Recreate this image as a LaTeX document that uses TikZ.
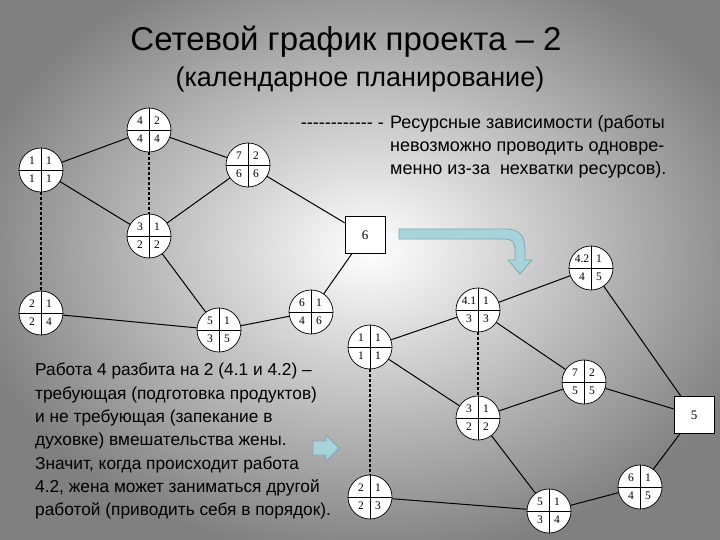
\documentclass[tikz,border=0pt]{standalone}
\usepackage{fontspec}
\setmainfont{Liberation Sans}
\newfontfamily\numf{Liberation Serif}
\usetikzlibrary{calc}
\definecolor{arrfill}{HTML}{A9D3DB}
\definecolor{arrdraw}{HTML}{7FA9B3}
\tikzset{
 ev/.style={circle,draw,fill=white,minimum size=44pt,inner sep=0pt,line width=0.7pt},
 num/.style={font=\numf\fontsize{11.5}{12}\selectfont,inner sep=0pt},
 bx/.style={draw,fill=white,minimum width=40pt,minimum height=37pt,font=\numf\fontsize{13}{14}\selectfont,line width=0.7pt},
 ed/.style={line width=1pt},
 rs/.style={line width=1.2pt,dash pattern=on 3pt off 2pt},
 blk/.style={draw=arrdraw,fill=arrfill,line width=0.8pt},
}
\newcommand\ev[6]{%
 \node[ev] (#1) at (#2) {};
 \draw[line width=0.6pt] (#1.west)--(#1.east) (#1.north)--(#1.south);
 \node[num] at ($(#1)+(-9,-9)$) {#3};
 \node[num] at ($(#1)+(8,-9)$) {#4};
 \node[num] at ($(#1)+(-9,9)$) {#5};
 \node[num] at ($(#1)+(8,9)$) {#6};}
\begin{document}
\begin{tikzpicture}[x=1pt,y=-1pt]
\path[use as bounding box] (0,0) rectangle (720,540);
\begin{scope}
\clip (0,0) rectangle (720,540);
\shade[inner color=white,outer color=black!50] (-40,-60) rectangle (780,560);
\end{scope}
\node[font=\fontsize{33}{38}\selectfont] (t1) at (346,42) {Сетевой график проекта – 2};
\node[font=\fontsize{27}{32}\selectfont] (t2) at (360,80) {(календарное планирование)};
\node[anchor=north west,align=left,font=\fontsize{18}{23}\selectfont,inner sep=0pt] (lg) at (390,115) {Ресурсные зависимости (работы\\невозможно проводить одновре-\\менно из-за\ \ нехватки ресурсов).};
\node[anchor=east,font=\fontsize{18}{20}\selectfont,inner sep=0pt] (lgd) at (384,126) {-{}-{}-{}-{}-{}-{}-{}-{}-{}-{}-{}-{} -};
\node[anchor=north west,align=left,font=\fontsize{17.3}{23.3}\selectfont,inner sep=0pt] (par) at (35,363) {Работа 4 разбита на 2 (4.1 и 4.2) –\\требующая (подготовка продуктов)\\и не требующая (запекание в\\духовке) вмешательства жены.\\Значит, когда происходит работа\\4.2, жена может заниматься другой\\работой (приводить себя в порядок).};
% left graph
\ev{A}{41,170}{1}{1}{1}{1}
\ev{B}{149,130}{4}{2}{4}{4}
\ev{C}{248,165}{7}{2}{6}{6}
\ev{D}{149,236}{3}{1}{2}{2}
\ev{E}{41,313}{2}{1}{2}{4}
\ev{F}{219,330}{5}{1}{3}{5}
\ev{G}{311,312}{6}{1}{4}{6}
\node[bx] (X6) at (365,235) {6};
\draw[ed] (A)--(B); \draw[ed] (B)--(C); \draw[ed] (A)--(D); \draw[ed] (D)--(C);
\draw[ed] (C)--(X6); \draw[ed] (X6)--(G); \draw[ed] (G)--(F); \draw[ed] (F)--(D); \draw[ed] (E)--(F);
\draw[rs] (A)--(E); \draw[rs] (B)--(D);
% right graph
\ev{H}{370,347}{1}{1}{1}{1}
\ev{I}{478,310}{4.1}{1}{3}{3}
\ev{J}{591,268}{4.2}{1}{4}{5}
\ev{K}{584,382}{7}{2}{5}{5}
\ev{L}{478,418}{3}{1}{2}{2}
\ev{M}{370,497}{2}{1}{2}{3}
\ev{N}{549,511}{5}{1}{3}{4}
\ev{O}{640,487}{6}{1}{4}{5}
\node[bx] (X5) at (694,415) {5};
\draw[ed] (H)--(I); \draw[ed] (I)--(J); \draw[ed] (H)--(L); \draw[ed] (I)--(K); \draw[ed] (L)--(K);
\draw[ed] (K)--(X5); \draw[ed] (J)--(X5); \draw[ed] (X5)--(O); \draw[ed] (O)--(N); \draw[ed] (N)--(L); \draw[ed] (M)--(N);
\draw[rs] (H)--(M); \draw[rs] (I)--(L);
% arrows
\draw[blk] (399,229)--(505,229) .. controls (520,229) and (525,236) .. (525,250) -- (525,260) -- (532,260) -- (520,274) -- (508,260) -- (515,260) -- (515,250) .. controls (515,242) and (512,239) .. (505,239) -- (399,239) -- cycle;
\draw[blk] (313,441) -- (326,441) -- (326,435) -- (339,448) -- (326,461) -- (326,455) -- (313,455) -- cycle;
\end{tikzpicture}
\end{document}
